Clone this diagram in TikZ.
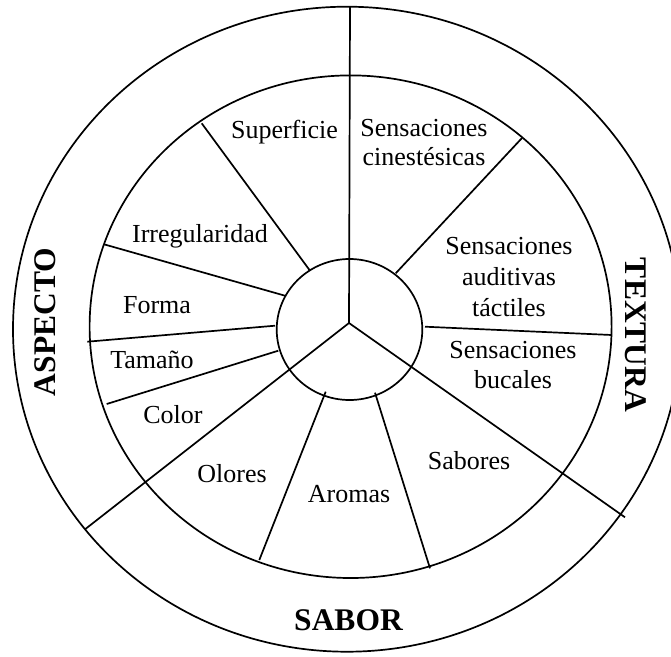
\documentclass[tikz,border=0pt]{standalone}
\usepackage{fontspec}
\setmainfont{Liberation Serif}
\begin{document}
\begin{tikzpicture}[x=1pt,y=-1pt,line width=1.7pt,line cap=butt,
  lbl/.style={font=\fontsize{26}{30}\selectfont,anchor=base,inner sep=0pt},
  big/.style={font=\fontsize{31.5}{36}\selectfont\bfseries,anchor=base,inner sep=0pt}]
\useasboundingbox (0,0) rectangle (671,656);
\clip (0,0) rectangle (671,656);
% rings
\draw (347,329.2) ellipse [x radius=334,y radius=322.5];
\draw (350.6,326.7) ellipse [x radius=261,y radius=251.3];
\draw (349.5,329.5) ellipse [x radius=72.8,y radius=70.5];
% main spokes
\coordinate (c) at (349,323);
\coordinate (top) at (350,6.7);
\coordinate (ll) at (85,529.3);
\coordinate (lr) at (625,517.3);
\draw (c) -- (top);
\draw (c) -- (ll);
\draw (c) -- (lr);
% secondary spokes
\draw (310,270.7) -- (201.7,123.3);
\draw (285,295.7) -- (104,244.3);
\draw (275,325.7) -- (87.3,341.7);
\draw (278.3,350.7) -- (106.7,404);
\draw (325.7,391.7) -- (259.3,560);
\draw (375,392.7) -- (430,568.3);
\draw (395.7,273.3) -- (522,138);
\draw (425,326.7) -- (611.7,335);
% labels
\node[lbl] (sup) at (284.5,138) {Superficie};
\node[lbl] (sc1) at (424,136) {Sensaciones};
\node[lbl] (sc2) at (424,165.5) {cinestésicas};
\node[lbl] (irr) at (200,242) {Irregularidad};
\node[lbl] (sa1) at (509,254) {Sensaciones};
\node[lbl] (sa2) at (509,285) {auditivas};
\node[lbl] (sa3) at (509,316) {táctiles};
\node[lbl] (for) at (157,313) {Forma};
\node[lbl] (tam) at (152,368) {Tamaño};
\node[lbl] (sb1) at (513,358) {Sensaciones};
\node[lbl] (sb2) at (513,388.5) {bucales};
\node[lbl] (col) at (173,423.5) {Color};
\node[lbl] (olo) at (232,482) {Olores};
\node[lbl] (aro) at (349,502.5) {Aromas};
\node[lbl] (sab) at (469,469.5) {Sabores};
\node[big] (SABOR) at (348.5,630) {SABOR};
\node[big,rotate=90] (ASP) at (55.5,322) {ASPECTO};
\node[big,rotate=-90] (TEX) at (625,335) {TEXTURA};
\end{tikzpicture}
\end{document}
